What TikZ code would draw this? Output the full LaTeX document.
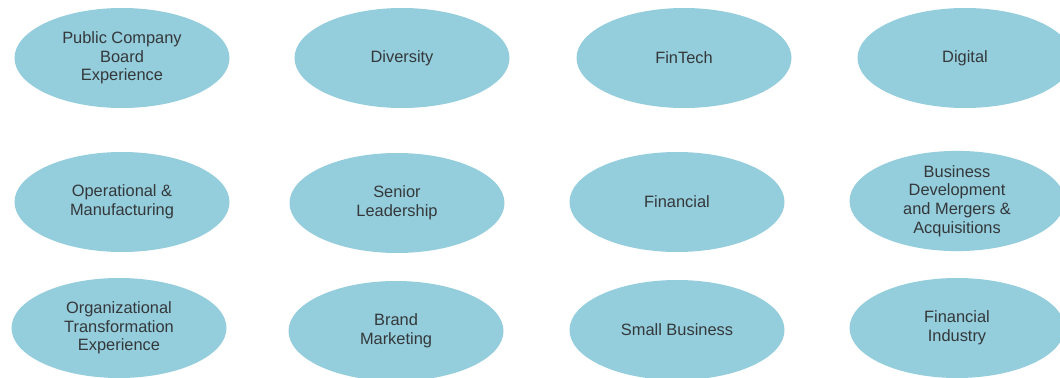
\documentclass[tikz,border=0pt]{standalone}
\usepackage{fontspec}
\setmainfont{Liberation Sans}
\usetikzlibrary{shapes.geometric}
\definecolor{skillblue}{RGB}{148,205,220}
\definecolor{skilltext}{RGB}{52,56,58}
\begin{document}
\begin{tikzpicture}
    \def\dx{0.75pt}
    \def\dy{0.75pt}

    \path[use as bounding box,fill=white] (0,0) rectangle (1060*\dx,-378*\dy);

    \tikzstyle{skill}=[ellipse,fill=skillblue,text=skilltext,minimum width=215*\dx,minimum height=100*\dy,inner sep=0pt,align=center,font=\fontsize{12.3}{13.9}\selectfont]

    \node[skill]  (board) at (122*\dx,-58*\dy) {Public Company\\Board\\Experience};
    \node[skill]  (diversity) at (402*\dx,-58*\dy) {Diversity};
    \node[skill]  (fintech) at (684*\dx,-58*\dy) {FinTech};
    \node[skill]  (digital) at (965*\dx,-58*\dy) {Digital};

    \node[skill]  (operational) at (122*\dx,-202*\dy) {Operational \&\\Manufacturing};
    \node[skill]  (senior) at (397*\dx,-203*\dy) {Senior\\Leadership};
    \node[skill]  (financial) at (677*\dx,-202*\dy) {Financial};
    \node[skill]  (business) at (957*\dx,-201*\dy) {Business\\Development\\and Mergers \&\\Acquisitions};

    \node[skill]  (orgtrans) at (119*\dx,-328*\dy) {Organizational\\Transformation\\Experience};
    \node[skill]  (brand) at (396*\dx,-331*\dy) {Brand\\Marketing};
    \node[skill]  (smallbiz) at (677*\dx,-330*\dy) {Small Business};
    \node[skill]  (industry) at (957*\dx,-328*\dy) {Financial\\Industry};
\end{tikzpicture}
\end{document}
